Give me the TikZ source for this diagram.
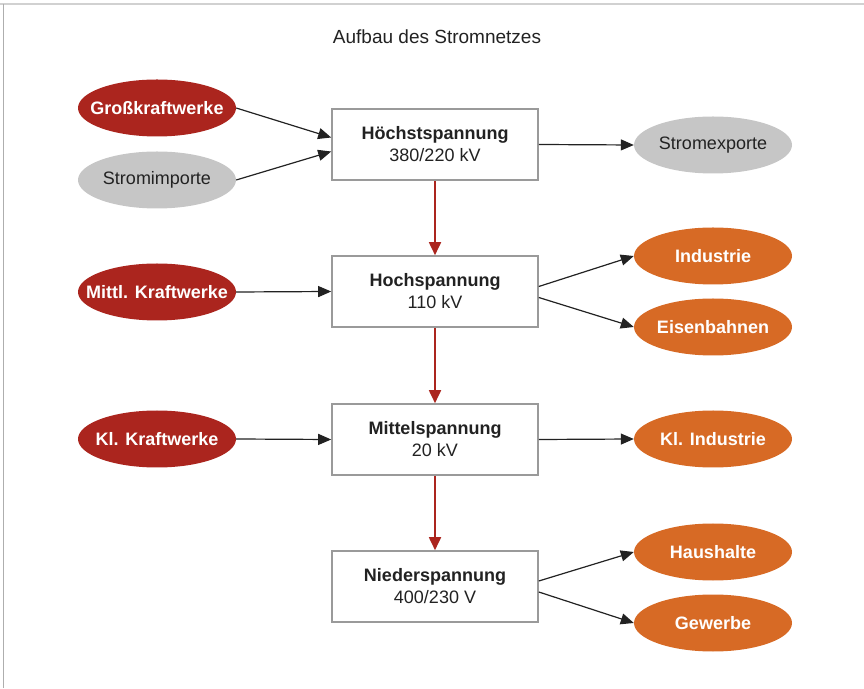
\documentclass[tikz,border=0pt]{standalone}
\usepackage{fontspec}
\setmainfont{Liberation Sans}
\usetikzlibrary{shapes.geometric,arrows.meta}

\definecolor{netzrot}{HTML}{AB251E}
\definecolor{netzgrau}{HTML}{C6C6C6}
\definecolor{netzorange}{HTML}{D76A25}
\definecolor{rahmengrau}{HTML}{9A9A9A}
\definecolor{textgrau}{HTML}{222222}

\tikzset{
	ebene/.style={draw=rahmengrau, line width=1.6pt, fill=white, minimum width=206pt, minimum height=71pt, align=center, text=textgrau, font=\fontsize{18}{22}\selectfont},
	oval/.style={ellipse, minimum width=158pt, minimum height=57pt, inner xsep=-30pt, inner ysep=0pt},
	quelle/.style={oval, fill=netzrot, text=white, font=\fontsize{18}{22}\selectfont\bfseries},
	handel/.style={oval, fill=netzgrau, text=textgrau, font=\fontsize{18}{22}\selectfont},
	verbraucher/.style={oval, fill=netzorange, text=white, font=\fontsize{18}{22}\selectfont\bfseries},
	fluss/.style={draw=textgrau, line width=1.2pt, -{Triangle[length=13pt,width=11pt]}},
	stufe/.style={draw=netzrot, line width=1.8pt, -{Triangle[length=13pt,width=12pt]}}
}

\begin{document}
\begin{tikzpicture}[x=1pt,y=1pt]
		\def\xBox{435} % Middle column
		\def\xLinks{157} % Sources
		\def\xRechts{713} % Consumers
		
		\useasboundingbox (0,0) rectangle (864,688);
		
		% Frame (top and left only)
		\draw[draw=netzgrau!80, line width=1.5pt] (0,684) -- (864,684);
		\draw[draw=rahmengrau!80, line width=0.8pt] (3,684) -- (3,0);
		
		% Title
		\node[text=textgrau, font=\fontsize{19}{22}\selectfont] (titel) at (437,651) {Aufbau des Stromnetzes};
		
		% Voltage levels
		\node[ebene] (hoechst) at (\xBox,543.5) {\textbf{Höchstspannung}\\380/220 kV};
		\node[ebene] (hoch) at (\xBox,396.5) {\textbf{Hochspannung}\\110 kV};
		\node[ebene] (mittel) at (\xBox,248.5) {\textbf{Mittelspannung}\\20 kV};
		\node[ebene] (nieder) at (\xBox,101.5) {\textbf{Niederspannung}\\400/230 V};
		
		% Sources on the left
		\node[quelle] (gross) at (\xLinks,580) {Großkraftwerke};
		\node[handel] (import) at (\xLinks,508) {Stromimporte};
		\node[quelle] (mittelkw) at (\xLinks,396) {Mittl. Kraftwerke};
		\node[quelle] (kleinkw) at (\xLinks,249) {Kl. Kraftwerke};
		
		% Consumers on the right
		\node[handel] (export) at (\xRechts,543) {Stromexporte};
		\node[verbraucher] (industrie) at (\xRechts,432) {Industrie};
		\node[verbraucher] (bahn) at (\xRechts,361) {Eisenbahnen};
		\node[verbraucher] (kleinind) at (\xRechts,249) {Kl. Industrie};
		\node[verbraucher] (haushalt) at (\xRechts,136) {Haushalte};
		\node[verbraucher] (gewerbe) at (\xRechts,65) {Gewerbe};
		
		% Transformation steps
		\foreach \oben/\unten in {hoechst/hoch, hoch/mittel, mittel/nieder} {
			\draw[stufe] (\oben.south) -- (\unten.north);
		}
		
		% Feed-in and supply
		\draw[fluss] (gross.east) -- ([yshift=7pt]hoechst.west);
		\draw[fluss] (import.east) -- ([yshift=-7pt]hoechst.west);
		\draw[fluss] (hoechst.east) -- (export.west);
		\draw[fluss] (mittelkw.east) -- (hoch.west);
		\draw[fluss] ([yshift=5pt]hoch.east) -- (industrie.west);
		\draw[fluss] ([yshift=-6pt]hoch.east) -- (bahn.west);
		\draw[fluss] (kleinkw.east) -- (mittel.west);
		\draw[fluss] (mittel.east) -- (kleinind.west);
		\draw[fluss] ([yshift=5.5pt]nieder.east) -- (haushalt.west);
		\draw[fluss] ([yshift=-5.5pt]nieder.east) -- (gewerbe.west);
	\end{tikzpicture}
\end{document}
